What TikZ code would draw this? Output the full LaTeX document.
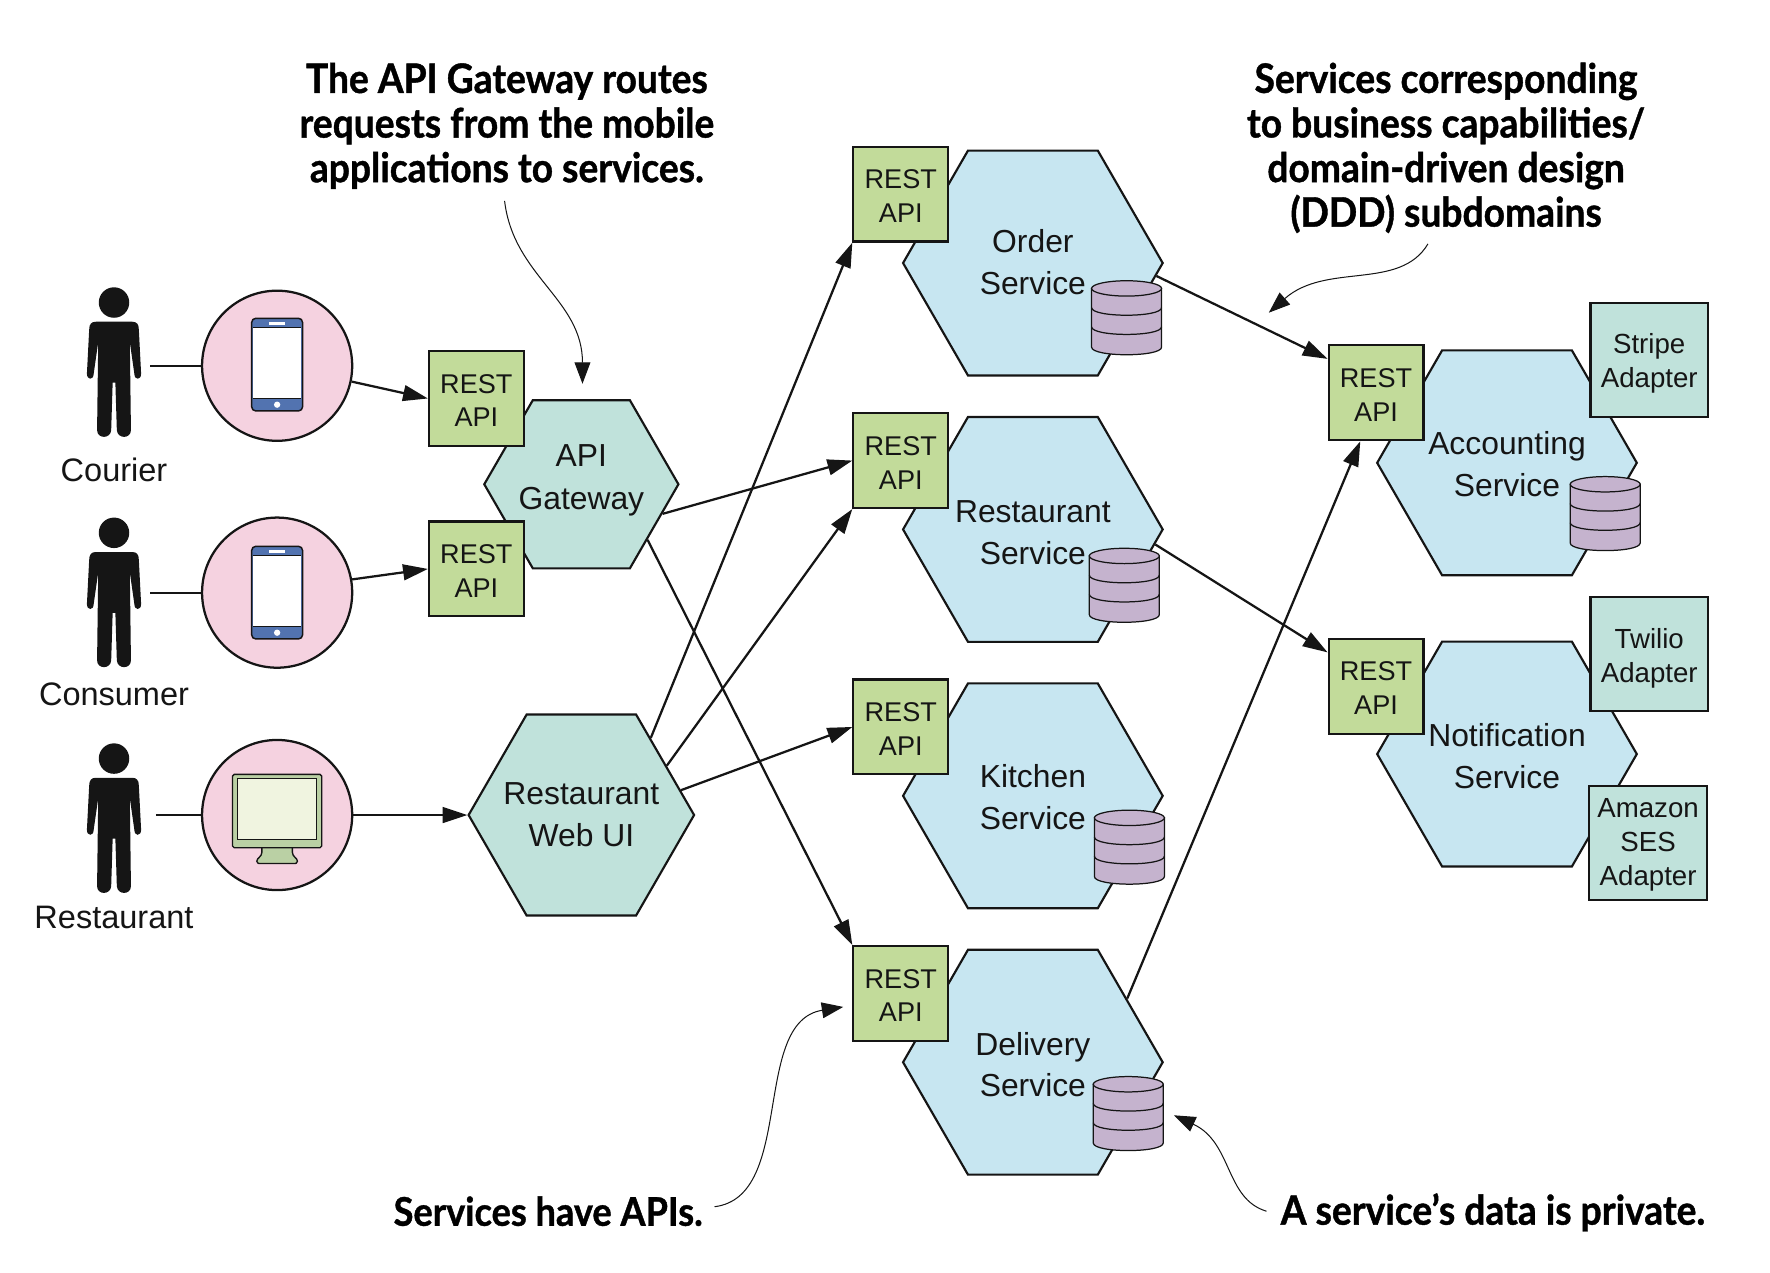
\documentclass[tikz,border=0pt]{standalone}
\usepackage{fontspec}
\setmainfont{Liberation Sans}
\newfontfamily\calloutfont[FakeStretch=0.915,BoldFeatures={FakeBold=1}]{Lato}
\usetikzlibrary{arrows.meta,shapes.geometric,shapes.symbols,calc}
\definecolor{inkc}{HTML}{151515}
\definecolor{restg}{HTML}{C2DB9A}
\definecolor{svcb}{HTML}{C7E6F1}
\definecolor{tealh}{HTML}{C0E2DB}
\definecolor{pinkc}{HTML}{F5D2E0}
\definecolor{dbp}{HTML}{C5B3CE}
\definecolor{phoneb}{HTML}{5273B0}
\definecolor{monf}{HTML}{BAD0A4}
\definecolor{mons}{HTML}{F0F4E0}
\newcommand{\toppad}[1]{\rule{0pt}{#1pt}}
\newcommand{\restlabel}{\toppad{20.5}REST\\API}
\tikzset{
  x=1pt,y=-1pt,
  txt/.style={text=inkc,font=\fontsize{28.2}{37}\selectfont,align=center},
  svchex/.style={regular polygon,regular polygon sides=6,minimum size=230pt,inner sep=0pt,draw=inkc,line width=1.9pt,fill=svcb,txt},
  gatehex/.style={regular polygon,regular polygon sides=6,minimum size=172pt,inner sep=0pt,draw=inkc,line width=1.9pt,fill=tealh,txt,font=\fontsize{28.2}{38}\selectfont},
  webhex/.style={signal,signal to=east and west,signal pointer angle=120,minimum height=178pt,inner sep=0pt,draw=inkc,line width=1.9pt,fill=tealh,txt},
  restbox/.style={rectangle,minimum size=84pt,inner sep=0pt,draw=inkc,line width=1.9pt,fill=restg,text=inkc,align=center,font=\fontsize{24}{30}\selectfont},
  adapter/.style={rectangle,minimum width=104pt,minimum height=101pt,inner sep=0pt,draw=inkc,line width=1.9pt,fill=tealh,text=inkc,align=center,font=\fontsize{24.5}{30}\selectfont},
  devcircle/.style={circle,minimum size=133pt,inner sep=0pt,draw=inkc,line width=2pt,fill=pinkc},
  actor/.style={text=inkc,font=\fontsize{28.8}{34}\selectfont},
  callout/.style={text=black,align=center,font=\calloutfont\bfseries\fontsize{36}{39.5}\selectfont},
  conn/.style={draw=inkc,line width=2pt,-{Triangle[length=22pt,width=14pt]}},
  plainconn/.style={draw=inkc,line width=2pt},
  thinarrow/.style={draw=inkc,line width=0.9pt,-{Triangle[length=19pt,width=14pt]}},
  dbicon/.pic={
    \draw[draw=inkc,line width=1.1pt,fill=dbp] (0,7) -- (0,59) .. controls (0,68) and (62,68) .. (62,59) -- (62,7) -- cycle;
    \draw[draw=inkc,line width=1.1pt,fill=dbp] (31,7) ellipse [x radius=31pt,y radius=6.8pt];
    \draw[draw=inkc,line width=1.1pt] (0,24) .. controls (0,33) and (62,33) .. (62,24);
    \draw[draw=inkc,line width=1.1pt] (0,41) .. controls (0,50) and (62,50) .. (62,41);
  },
  personfig/.pic={
    \fill[inkc] (0,14) ellipse [x radius=13.5pt,y radius=13.5pt];
    \fill[inkc] (-16,31) -- (16,31) .. controls (20,31) and (22,33) .. (22,38)
      -- (24,77) .. controls (24,83) and (18,83) .. (18,77)
      -- (14,49) -- (15,127) .. controls (15,135) and (3,135) .. (2.5,127)
      -- (1.2,85) -- (-1.2,85) -- (-2.5,127) .. controls (-3,135) and (-15,135) .. (-15,127)
      -- (-14,49) -- (-18,77) .. controls (-18,83) and (-24,83) .. (-24,77)
      -- (-22,38) .. controls (-22,33) and (-20,31) .. (-16,31) -- cycle;
  },
  phonefig/.pic={
    \draw[draw=inkc,line width=1.3pt,fill=phoneb,rounded corners=3.5pt] (-22.5,-41) rectangle (22.5,41);
    \fill[white] (-21,-32.5) rectangle (21,30);
    \draw[inkc,line width=0.9pt] (-21.5,-32.5) -- (21.5,-32.5) (-21.5,30) -- (21.5,30);
    \fill[white] (-7,-37.5) rectangle (7,-35.5);
    \fill[white] (0,35.5) circle [radius=2.8pt];
  },
  monitorfig/.pic={
    \draw[draw=inkc,line width=1.2pt,fill=monf] (-13.5,28) -- (-13.5,33) .. controls (-13.5,37) and (-18,38) .. (-18,41) .. controls (-18,43) and (-16,43) .. (-15,43) -- (15,43) .. controls (16,43) and (18,43) .. (18,41) .. controls (18,38) and (13.5,37) .. (13.5,33) -- (13.5,28) -- cycle;
    \draw[draw=inkc,line width=1.2pt,fill=monf,rounded corners=1.5pt] (-39.5,-36) rectangle (39.5,29);
    \draw[draw=inkc,line width=0.9pt,fill=mons] (-35,-32) rectangle (35,22);
  },
}
\begin{document}
\begin{tikzpicture}
\useasboundingbox (0,0) rectangle (1568,1127);

% actors
\pic at (101,254) {personfig};
\pic at (101,458) {personfig};
\pic at (101,658) {personfig};
\node[actor] (courier) at (101,416) {Courier};
\node[actor] (consumer) at (101,615) {Consumer};
\node[actor] (restaurant) at (101,813) {Restaurant};
\coordinate (courierHand) at (133,324);
\coordinate (consumerHand) at (133,525);
\coordinate (restaurantHand) at (138,722);

% devices
\node[devcircle] (courierDev) at (245.5,324) {};
\node[devcircle] (consumerDev) at (245.5,525) {};
\node[devcircle] (restaurantDev) at (245.5,722) {};
\pic at (245.5,323) {phonefig};
\pic at (245.5,525) {phonefig};
\pic at (245.5,722) {monitorfig};

% gateway and UI
\node[gatehex,label={[txt,yshift=3.5pt,font=\fontsize{28.2}{38}\selectfont]center:{API\\Gateway}}] (api) at (515,429) {};
\node[webhex,label={[txt]center:{Restaurant\\Web UI}}] (webui) at (515,722) {\rule{97pt}{0pt}};
\node[restbox] (restCourier) at (422,353) {\restlabel};
\node[restbox] (restConsumer) at (422,504) {\restlabel};

% services
\node[svchex,text depth=2pt] (order) at (915,233) {Order\\Service};
\node[svchex] (restsvc) at (915,469) {\toppad{24.6}Restaurant\\Service};
\node[svchex] (kitchen) at (915,705) {\toppad{22.6}Kitchen\\Service};
\node[svchex] (delivery) at (915,941) {\toppad{24.6}Delivery\\Service};
\node[svchex] (accounting) at (1335,410) {\toppad{22.6}Accounting\\Service};
\node[svchex] (notification) at (1335,668) {\toppad{24.6}Notification\\Service};

\node[restbox] (restOrder) at (798,172) {\restlabel};
\node[restbox] (restRest) at (798,408) {\restlabel};
\node[restbox] (restKitchen) at (798,644) {\restlabel};
\node[restbox] (restDelivery) at (798,880) {\restlabel};
\node[restbox] (restAcc) at (1219,348) {\restlabel};
\node[restbox] (restNotif) at (1219,608) {\restlabel};

\pic at (967,248.5) {dbicon};
\pic at (965,485.5) {dbicon};
\pic at (969.5,717.5) {dbicon};
\pic at (968.5,953.5) {dbicon};
\pic at (1391,422) {dbicon};

\node[adapter,text depth=0pt] (stripe) at (1461,319) {Stripe\\Adapter};
\node[adapter,text depth=0pt] (twilio) at (1461,579) {\toppad{20.6}Twilio\\Adapter};
\node[adapter,text depth=1pt] (ses) at (1460,746.5) {Amazon\\SES\\Adapter};

% connectors
\draw[plainconn] (courierHand) -- (courierDev.west |- courierHand);
\draw[plainconn] (consumerHand) -- (consumerDev.west |- consumerHand);
\draw[plainconn] (restaurantHand) -- (restaurantDev.west |- restaurantHand);
\draw[conn] (courierDev.-12) -- (restCourier.west);
\draw[conn] (consumerDev.10) -- (restConsumer.west);
\draw[conn] (restaurantDev.east) -- (webui.west);
\draw[conn] (api.-20) -- (restRest.west);
\draw[conn] (api.-40) -- (restDelivery.north west);
\draw[conn] (webui.48) -- (restOrder.south west);
\draw[conn] (webui.30) -- (restRest.south west);
\draw[conn] (webui.14.6) -- (restKitchen.west);
\draw[conn] (order.-6) -- (restAcc.145);
\draw[conn] (restsvc.-7) -- (restNotif.145);
\draw[conn] (delivery.34.5) -- (restAcc.252);

% callouts
\node[callout] (noteGateway) at (449,111.5) {The API Gateway routes\\requests from the mobile\\applications to services.};
\node[callout] (noteDomains) at (1281,131) {Services corresponding\\to business capabilities/\\domain-driven design\\(DDD) subdomains};
\node[callout,anchor=east,font=\calloutfont\bfseries\fontsize{35}{39.5}\selectfont] (noteApis) at (626,1073) {Services have APIs.};
\node[callout,anchor=west] (noteData) at (1131,1074) {A service’s data is private.};

\coordinate (tipGateway) at (516,340);
\coordinate (tipDomains) at (1124,277);
\coordinate (tipApis) at (747,892);
\coordinate (tipData) at (1040,988);
\draw[thinarrow] (447,178) .. controls (455,245) and (516,265) .. (tipGateway);
\draw[thinarrow] (1265,216) .. controls (1240,258) and (1175,232) .. (tipDomains);
\draw[thinarrow] (633,1069) .. controls (705,1060) and (665,905) .. (tipApis);
\draw[thinarrow] (1122,1073) .. controls (1085,1062) and (1092,1012) .. (tipData);
\end{tikzpicture}
\end{document}
